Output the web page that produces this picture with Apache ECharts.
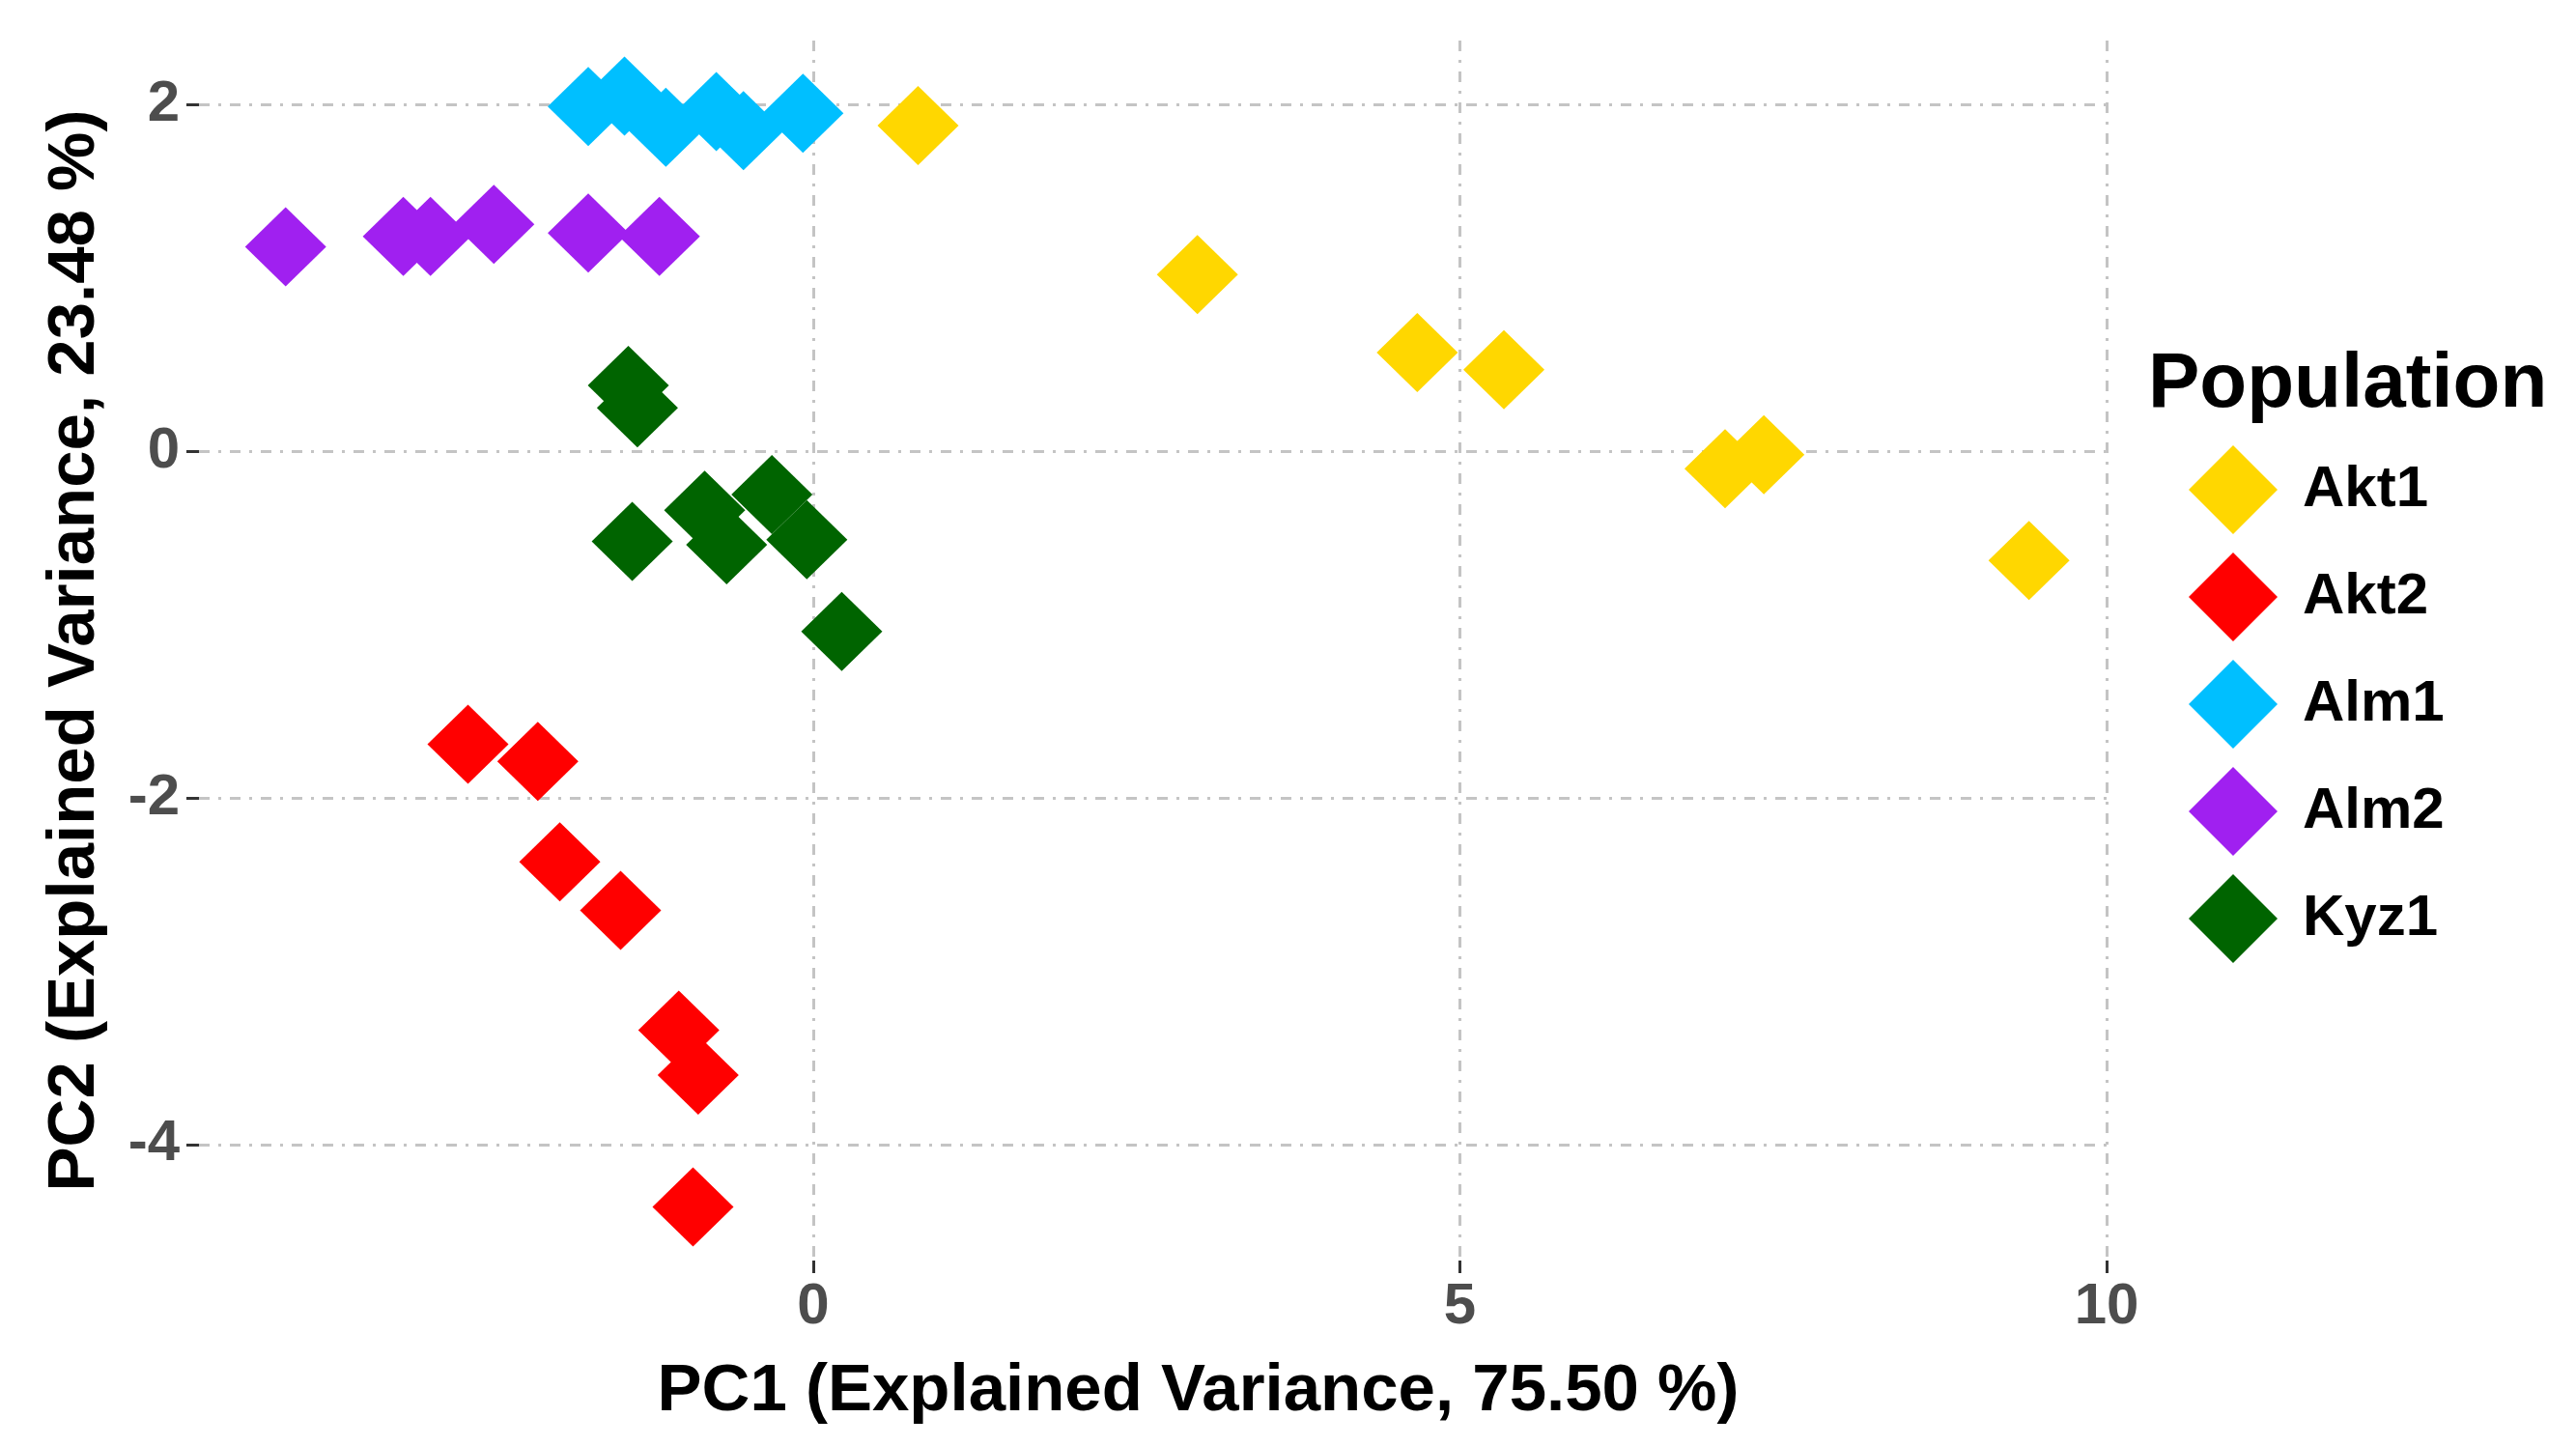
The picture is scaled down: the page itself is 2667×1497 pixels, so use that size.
<!DOCTYPE html>
<html>
<head>
<meta charset="utf-8">
<script src="https://cdn.jsdelivr.net/npm/echarts@6/dist/echarts.min.js"></script>
<style>
  html, body { margin: 0; padding: 0; background: #fff; }
  #chart { width: 2667px; height: 1497px; }
</style>
</head>
<body>
<div id="chart"></div>
<script>
// PCA scores, one pair of arrays per population
var akt1_x = [0.81, 2.97, 4.67, 5.34, 7.05, 7.35, 9.40];
var akt1_y = [1.88, 1.02, 0.57, 0.47, -0.10, -0.02, -0.63];

var akt2_x = [-2.67, -2.13, -1.96, -1.49, -1.04, -0.89, -0.93];
var akt2_y = [-1.69, -1.79, -2.37, -2.65, -3.34, -3.60, -4.36];

var alm1_x = [-1.74, -1.46, -1.14, -0.75, -0.54, -0.08];
var alm1_y = [1.99, 2.05, 1.87, 1.96, 1.85, 1.95];

var alm2_x = [-4.08, -3.17, -2.96, -2.47, -1.74, -1.19];
var alm2_y = [1.18, 1.24, 1.24, 1.31, 1.26, 1.24];

var kyz1_x = [-1.43, -1.36, -1.40, -0.84, -0.67, -0.32, -0.05, 0.22];
var kyz1_y = [0.38, 0.25, -0.52, -0.34, -0.54, -0.25, -0.51, -1.04];

var populations = ['Akt1', 'Akt2', 'Alm1', 'Alm2', 'Kyz1'];
var colors = ['#FFD700', '#FF0000', '#00BFFF', '#A020F0', '#006400'];

var xTicks = [0, 5, 10];
var yTicks = [-4, -2, 0, 2];

function pairs(xs, ys) {
  var out = [];
  for (var i = 0; i < xs.length; i++) {
    out.push([xs[i], ys[i]]);
  }
  return out;
}

var groups = [
  pairs(akt1_x, akt1_y),
  pairs(akt2_x, akt2_y),
  pairs(alm1_x, alm1_y),
  pairs(alm2_x, alm2_y),
  pairs(kyz1_x, kyz1_y)
];

var font = 'Liberation Sans';
var gridLine = { color: '#c4c4c4', width: 3, type: [11, 9, 3, 9] };

var chartDom = document.getElementById('chart');
var myChart = echarts.init(chartDom);
var option;

option = {
  animation: false,
  backgroundColor: '#ffffff',
  title: [{
    text: 'Population',
    left: 2224,
    top: 359,
    padding: 0,
    textStyle: { fontFamily: font, fontWeight: 'bold', fontSize: 80, color: '#000', lineHeight: 80 }
  }],
  legend: {
    data: populations.map(function (p) { return { name: p, icon: 'diamond' }; }),
    orient: 'vertical',
    left: 2266,
    top: 461,
    padding: 0,
    itemWidth: 92,
    itemHeight: 92,
    itemGap: 19,
    symbolKeepAspect: true,
    selectedMode: false,
    textStyle: { fontFamily: font, fontWeight: 'bold', fontSize: 60, color: '#000', padding: [0, 0, 0, 21] }
  },
  grid: {
    left: 206,
    right: 486,
    top: 42,
    bottom: 192,
    containLabel: false,
    outerBoundsMode: 'none'
  },
  xAxis: {
    type: 'value',
    min: -4.75,
    max: 10,
    name: 'PC1 (Explained Variance, 75.50 %)',
    nameLocation: 'middle',
    nameGap: 101,
    nameTextStyle: { fontFamily: font, fontWeight: 'bold', fontSize: 69, color: '#000', padding: [0, 0, 0, 94] },
    axisLine: { show: false, onZero: false },
    axisTick: { show: true, customValues: xTicks, length: 13, lineStyle: { color: '#333', width: 3 } },
    axisLabel: { customValues: xTicks, margin: 18, fontFamily: font, fontWeight: 'bold', fontSize: 60, color: '#4d4d4d' },
    splitLine: { show: true, lineStyle: gridLine }
  },
  yAxis: {
    type: 'value',
    min: -4.67,
    max: 2.37,
    name: 'PC2 (Explained Variance, 23.48 %)',
    nameLocation: 'middle',
    nameRotate: 90,
    nameGap: 94,
    nameTextStyle: { fontFamily: font, fontWeight: 'bold', fontSize: 69, color: '#000' },
    axisLine: { show: false, onZero: false },
    axisTick: { show: true, customValues: yTicks, length: 13, lineStyle: { color: '#333', width: 3 } },
    axisLabel: { customValues: yTicks, margin: 20, fontFamily: font, fontWeight: 'bold', fontSize: 60, color: '#4d4d4d' },
    splitLine: { show: true, lineStyle: gridLine }
  },
  series: populations.map(function (p, i) {
    return {
      name: p,
      type: 'scatter',
      data: groups[i],
      symbol: 'diamond',
      symbolSize: [84, 82],
      itemStyle: { color: colors[i], opacity: 1 },
      emphasis: { disabled: true }
    };
  })
};

myChart.setOption(option);
</script>
</body>
</html>
